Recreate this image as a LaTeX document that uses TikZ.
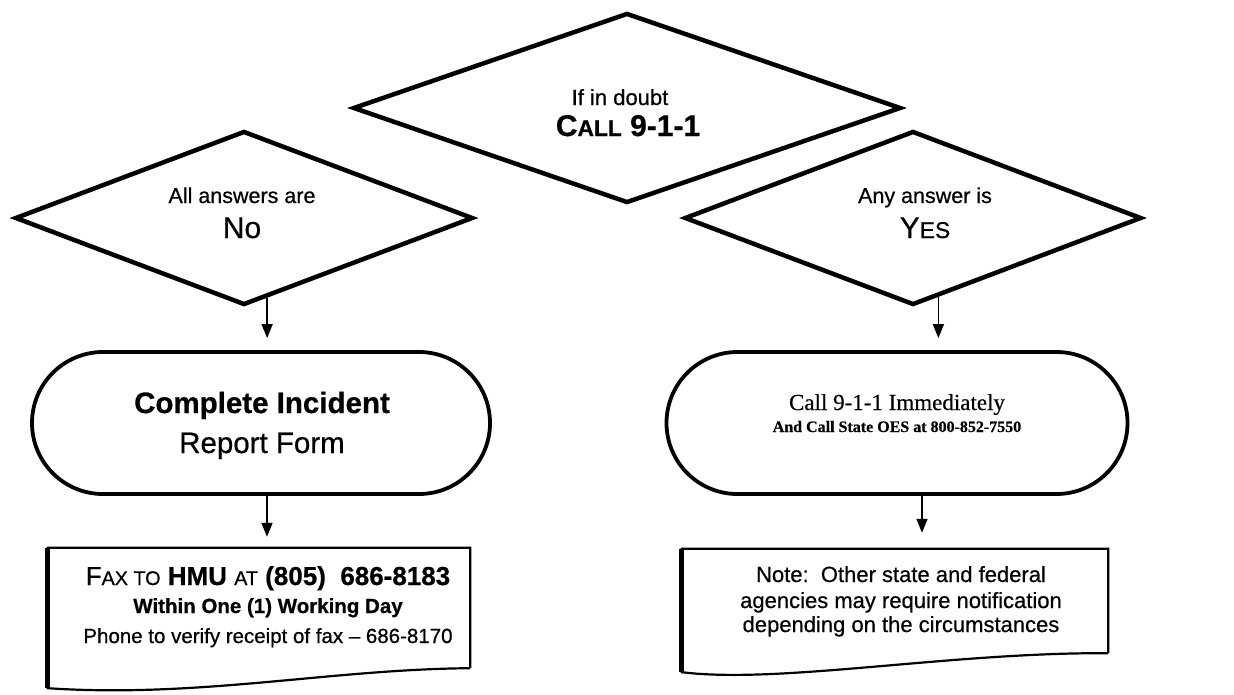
\documentclass[tikz,border=0pt]{standalone}
\usepackage{fontspec}
\setmainfont{Liberation Sans}[FakeBold=0.6]
\newfontfamily\timesfont{Liberation Serif}[FakeBold=0.4]
\usetikzlibrary{shapes.geometric,shapes.misc,arrows.meta,calc}
\newcommand\capsmall[1]{\scalebox{0.76}{#1}}
\tikzset{
  decide/.style={draw,diamond,line width=4.5pt,inner sep=0pt},
  endcap/.style={draw,rounded rectangle,line width=3.8pt,inner sep=0pt},
  sheet/.style={inner sep=0pt},
  doc/.style={line width=2.2pt,line join=miter},
  arr/.style={-{Triangle[width=11pt,length=14pt]},line width=1.4pt},
  txt/.style={anchor=base,inner sep=0pt},
}
\begin{document}
\begin{tikzpicture}[x=1pt,y=-1pt]
  \useasboundingbox (0,0) rectangle (1234,694);
  \fill[white] (0,0) rectangle (1234,694);
  % decisions
  \node[decide,minimum width=548pt,minimum height=190pt] (doubtq) at (627,108) {};
  \node[decide,minimum width=458pt,minimum height=174pt] (noq) at (244,218) {};
  \node[decide,minimum width=457pt,minimum height=174pt] (yesq) at (913,218) {};
  \node[txt,font=\fontsize{22}{26}\selectfont] (doubtt) at (620,105) {If in doubt};
  \node[txt,font=\fontsize{30}{34}\selectfont\bfseries] (callt) at (628,136) {C\capsmall{ALL} 9-1-1};
  \node[txt,font=\fontsize{21.5}{26}\selectfont] (allt) at (242,203) {All answers are};
  \node[txt,font=\fontsize{30}{34}\selectfont] (not) at (242,238) {No};
  \node[txt,font=\fontsize{21.5}{26}\selectfont] (anyt) at (925,203) {Any answer is};
  \node[txt,font=\fontsize{30}{34}\selectfont] (yest) at (925,238) {Y\capsmall{ES}};
  % terminals
  \node[endcap,minimum width=458pt,minimum height=142pt] (reportbox) at (261,423) {};
  \node[endcap,minimum width=461pt,minimum height=142pt] (callbox) at (897,423) {};
  \node[txt,font=\fontsize{29.5}{34}\selectfont\bfseries] (completet) at (262,413) {Complete Incident};
  \node[txt,font=\fontsize{29.5}{34}\selectfont] (reportt) at (262,453) {Report Form};
  \node[txt,font=\fontsize{23}{26}\timesfont] (immt) at (897,410) {Call 9-1-1 Immediately};
  \node[txt,font=\fontsize{16}{18}\timesfont\bfseries] (oest) at (897,432) {And Call State OES at 800-852-7550};
  % documents
  \node[sheet,minimum width=422pt,minimum height=120pt] (faxbox) at (259,608) {};
  \node[sheet,minimum width=426pt,minimum height=104pt] (notebox) at (895,601) {};
  \draw[doc] (faxbox.south east) -- (faxbox.north east) -- (faxbox.north west)
    -- ($(faxbox.south west)+(0,20)$) .. controls +(152,10) and +(-140,1) .. (faxbox.south east);
  \draw[line width=5pt] (faxbox.north west) -- ($(faxbox.south west)+(0,20)$);
  \draw[doc] (notebox.south east) -- (notebox.north east) -- (notebox.north west)
    -- ($(notebox.south west)+(0,19)$) .. controls +(98,12) and +(-158,-1) .. (notebox.south east);
  \draw[line width=5pt] (notebox.north west) -- ($(notebox.south west)+(0,19)$);
  \node[txt,font=\fontsize{26}{30}\selectfont] (faxt) at (268,585)
    {F\capsmall{AX TO} \textbf{HMU} \capsmall{AT} \textbf{(805)\ \ 686-8183}};
  \node[txt,font=\fontsize{20.5}{24}\selectfont\bfseries] (withint) at (268,613) {Within One (1) Working Day};
  \node[txt,font=\fontsize{20.5}{24}\selectfont] (phonet) at (268,643) {Phone to verify receipt of fax – 686-8170};
  \node[txt,font=\fontsize{22}{26}\selectfont] (notet) at (901,582) {Note:\ \ Other state and federal};
  \node[txt,font=\fontsize{22}{26}\selectfont] (agenciest) at (901,608) {agencies may require notification};
  \node[txt,font=\fontsize{22}{26}\selectfont] (dependt) at (901,632) {depending on the circumstances};
  % arrows
  \coordinate (noout) at ($(noq.south)!0.1!(noq.east)$);
  \coordinate (yesout) at ($(yesq.south)!0.11!(yesq.east)$);
  \draw[arr,shorten >=12pt] (noout) -- (noout |- reportbox.north);
  \draw[arr,shorten >=12pt] (yesout) -- (yesout |- callbox.north);
  \draw[arr,shorten >=11pt] ($(reportbox.south)+(6,0)$) -- ($(faxbox.north)+(8,0)$);
  \draw[arr,shorten >=16pt] ($(callbox.south)+(25,0)$) -- ($(notebox.north)+(27,0)$);
\end{tikzpicture}
\end{document}
